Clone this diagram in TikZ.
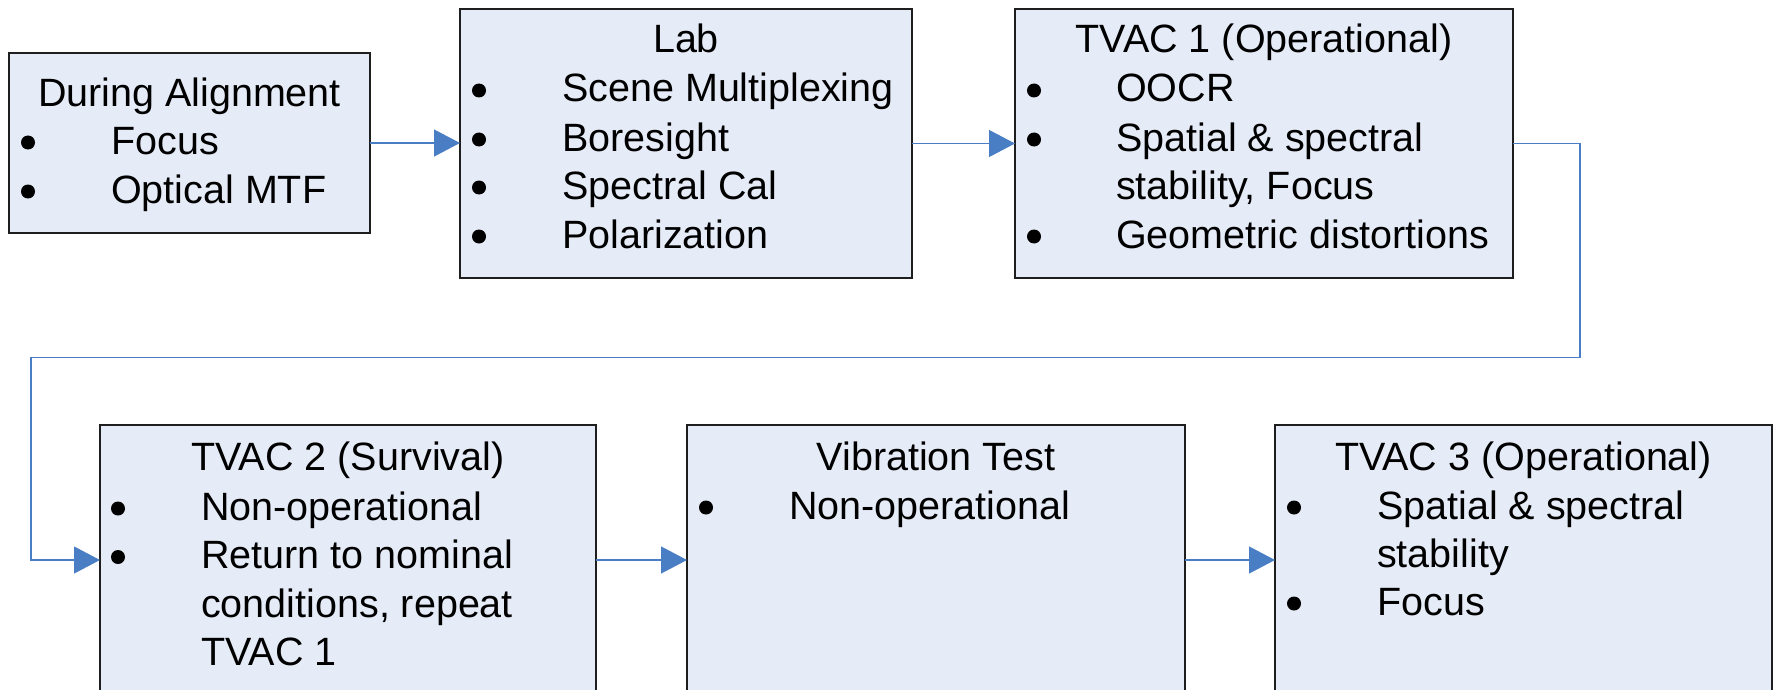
\documentclass[tikz,border=0pt]{standalone}
\usepackage{fontspec}
\setmainfont{Liberation Sans}
\usetikzlibrary{arrows.meta}
\definecolor{boxfill}{RGB}{230,236,247}
\definecolor{connblue}{RGB}{74,126,196}
\definecolor{boxline}{RGB}{30,30,30}
\begin{document}
\begin{tikzpicture}[x=1pt,y=1pt,
  box/.style={draw=boxline, line width=1.3pt, fill=boxfill, inner sep=0pt, outer sep=0pt, anchor=north west},
  conn/.style={draw=connblue, line width=1.2pt, -{Triangle[length=26pt,width=27pt]}},
  ttl/.style={anchor=base, inner sep=0pt, font=\fontsize{39.5pt}{48pt}\selectfont},
  txt/.style={anchor=base west, inner sep=0pt, font=\fontsize{39.5pt}{48pt}\selectfont},
  dot/.style={circle, fill=black, minimum size=14pt, inner sep=0pt}]
\useasboundingbox (0,0) rectangle (1774,-690);
% boxes
\node[box, minimum width=361pt, minimum height=180pt] (A) at (9,-53) {};
\node[box, minimum width=452pt, minimum height=269pt] (B) at (460,-9) {};
\node[box, minimum width=498pt, minimum height=269pt] (C) at (1015,-9) {};
\node[box, minimum width=496pt, minimum height=270pt] (D) at (100,-425) {};
\node[box, minimum width=498pt, minimum height=270pt] (E) at (687,-425) {};
\node[box, minimum width=497pt, minimum height=270pt] (F) at (1275,-425) {};
% box A
\node[ttl] (At) at ([yshift=-54pt]A.north) {During Alignment};
\node[dot] (A1b) at ([xshift=19pt,yshift=-89.5pt]A.north west) {};
\node[txt] (A1) at ([xshift=102pt,yshift=-101pt]A.north west) {Focus};
\node[dot] (A2b) at ([xshift=19pt,yshift=-138.5pt]A.north west) {};
\node[txt] (A2) at ([xshift=102pt,yshift=-150pt]A.north west) {Optical MTF};
% box B
\node[ttl] (Bt) at ([yshift=-44pt]B.north) {Lab};
\node[dot] (B1b) at ([xshift=19pt,yshift=-81.5pt]B.north west) {};
\node[txt] (B1) at ([xshift=102pt,yshift=-93pt]B.north west) {Scene Multiplexing};
\node[dot] (B2b) at ([xshift=19pt,yshift=-130.5pt]B.north west) {};
\node[txt] (B2) at ([xshift=102pt,yshift=-142pt]B.north west) {Boresight};
\node[dot] (B3b) at ([xshift=19pt,yshift=-178.5pt]B.north west) {};
\node[txt] (B3) at ([xshift=102pt,yshift=-190pt]B.north west) {Spectral Cal};
\node[dot] (B4b) at ([xshift=19pt,yshift=-227.5pt]B.north west) {};
\node[txt] (B4) at ([xshift=102pt,yshift=-239pt]B.north west) {Polarization};
% box C
\node[ttl] (Ct) at ([yshift=-44pt]C.north) {TVAC 1 (Operational)};
\node[dot] (C1b) at ([xshift=19pt,yshift=-81.5pt]C.north west) {};
\node[txt] (C1) at ([xshift=101pt,yshift=-93pt]C.north west) {OOCR};
\node[dot] (C2b) at ([xshift=19pt,yshift=-130.5pt]C.north west) {};
\node[txt] (C2) at ([xshift=101pt,yshift=-142pt]C.north west) {Spatial \& spectral};
\node[txt] (C3) at ([xshift=101pt,yshift=-190pt]C.north west) {stability, Focus};
\node[dot] (C4b) at ([xshift=19pt,yshift=-227.5pt]C.north west) {};
\node[txt] (C4) at ([xshift=101pt,yshift=-239pt]C.north west) {Geometric distortions};
% box D
\node[ttl] (Dt) at ([yshift=-45pt]D.north) {TVAC 2 (Survival)};
\node[dot] (D1b) at ([xshift=18pt,yshift=-83.5pt]D.north west) {};
\node[txt] (D1) at ([xshift=101pt,yshift=-95pt]D.north west) {Non-operational};
\node[dot] (D2b) at ([xshift=18pt,yshift=-132pt]D.north west) {};
\node[txt] (D2) at ([xshift=101pt,yshift=-143.5pt]D.north west) {Return to nominal};
\node[txt] (D3) at ([xshift=101pt,yshift=-192pt]D.north west) {conditions, repeat};
\node[txt] (D4) at ([xshift=101pt,yshift=-240pt]D.north west) {TVAC 1};
% box E
\node[ttl] (Et) at ([yshift=-45pt]E.north) {Vibration Test};
\node[dot] (E1b) at ([xshift=19pt,yshift=-82.5pt]E.north west) {};
\node[txt] (E1) at ([xshift=102pt,yshift=-94pt]E.north west) {Non-operational};
% box F
\node[ttl] (Ft) at ([yshift=-45pt]F.north) {TVAC 3 (Operational)};
\node[dot] (F1b) at ([xshift=19pt,yshift=-82.5pt]F.north west) {};
\node[txt] (F1) at ([xshift=102pt,yshift=-94pt]F.north west) {Spatial \& spectral};
\node[txt] (F2) at ([xshift=102pt,yshift=-142pt]F.north west) {stability};
\node[dot] (F3b) at ([xshift=19pt,yshift=-178.5pt]F.north west) {};
\node[txt] (F3) at ([xshift=102pt,yshift=-190pt]F.north west) {Focus};
% connectors
\coordinate (k1) at (1580,-357.5);
\coordinate (k2) at (31,-357.5);
\draw[conn] (A.east) -- (A.east -| B.west);
\draw[conn] (B.east) -- (B.east -| C.west);
\draw[conn] (C.east) -| (k1) -- (k2) |- (D.west);
\draw[conn] (D.east) -- (E.west);
\draw[conn] (E.east) -- (F.west);
\end{tikzpicture}
\end{document}
